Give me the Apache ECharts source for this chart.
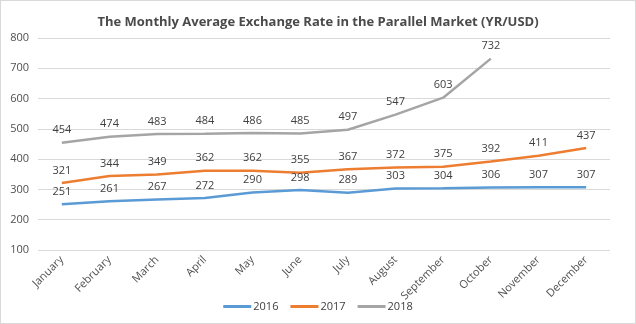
<!DOCTYPE html>
<html><head><meta charset="utf-8">
<script src="https://cdn.jsdelivr.net/npm/echarts@6/dist/echarts.min.js"></script>
<style>
html,body{margin:0;padding:0;background:#fff;}
#wrap{position:absolute;left:0;top:0;width:634px;height:322px;border:1px solid #d9d9d9;}
#c{width:634px;height:322px;}
</style></head>
<body><div id="wrap"><div id="c"></div></div>
<script>
const months = ["January","February","March","April","May","June","July","August","September","October","November","December"];
const s2016 = [251,261,267,272,290,298,289,303,304,306,307,307];
const s2017 = [321,344,349,362,362,355,367,372,375,392,411,437];
const s2018 = [454,474,483,484,486,485,497,547,603,732,null,null];
const yTicks = {min:100, max:800, interval:100};

const font = "'Open Sans', 'Liberation Sans', sans-serif";
function mk(name, data, color){
  return {name:name, type:'line', data:data, symbol:'circle', symbolSize:0, showSymbol:true, smooth:false,
    lineStyle:{width:2.5,color:color}, itemStyle:{color:color},
    label:{show:true, position:'top', distance:7, color:'#404040', fontSize:11, fontFamily:font}};
}
const chart = echarts.init(document.getElementById('c'));
chart.setOption({
  animation:false,
  title:{text:'The Monthly Average Exchange Rate in the Parallel Market (YR/USD)', left:'center', top:10,
    textStyle:{fontSize:13, fontWeight:'bold', color:'#4a4a4a', fontFamily:font}},
  grid:{left:37, right:25, top:37, bottom:73, containLabel:false},
  legend:{bottom:6, left:'center', itemWidth:28, itemHeight:3, itemGap:12, icon:'rect',
    textStyle:{color:'#404040', fontSize:11, fontFamily:font, padding:[0,0,0,-3]}},
  xAxis:{type:'category', data:months, boundaryGap:true,
    axisLine:{show:false}, axisTick:{show:false},
    axisLabel:{rotate:45, color:'#505050', fontSize:11, fontFamily:font, margin:8, interval:0}},
  yAxis:{type:'value', min:yTicks.min, max:yTicks.max, interval:yTicks.interval,
    axisLine:{show:false}, axisTick:{show:false},
    axisLabel:{color:'#505050', fontSize:11, fontFamily:font, margin:9},
    splitLine:{lineStyle:{color:'#d9d9d9', width:1}}},
  series:[mk('2016', s2016, '#5B9BD5'), mk('2017', s2017, '#ED7D31'), mk('2018', s2018, '#A5A5A5')]
});
</script></body></html>
